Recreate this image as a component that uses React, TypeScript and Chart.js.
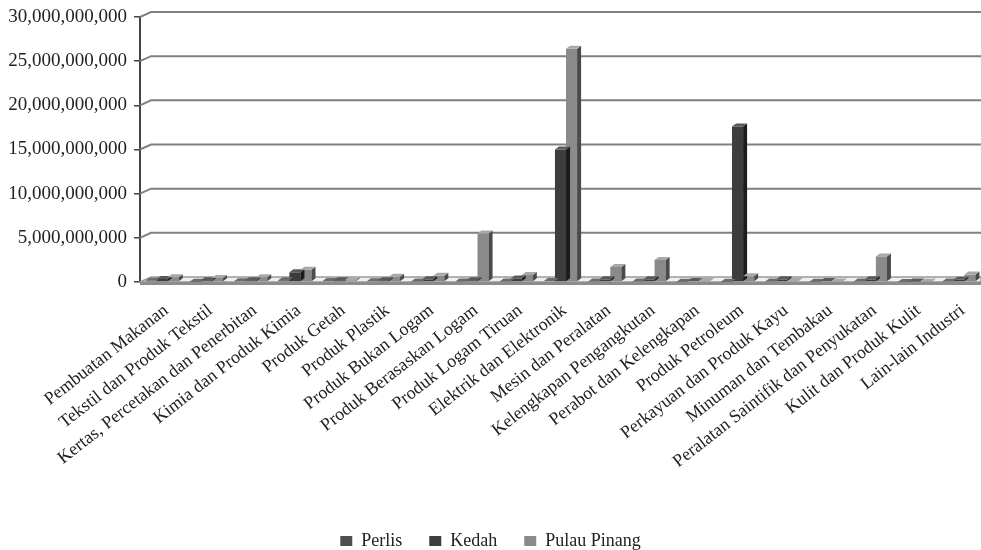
import React, { useEffect, useRef } from 'react';
import { Chart, registerables } from 'chart.js';

Chart.register(...registerables);

const categories = [
  'Pembuatan Makanan',
  'Tekstil dan Produk Tekstil',
  'Kertas, Percetakan dan Penerbitan',
  'Kimia dan Produk Kimia',
  'Produk Getah',
  'Produk Plastik',
  'Produk Bukan Logam',
  'Produk Berasaskan Logam',
  'Produk Logam Tiruan',
  'Elektrik dan Elektronik',
  'Mesin dan Peralatan',
  'Kelengkapan Pengangkutan',
  'Perabot dan Kelengkapan',
  'Produk Petroleum',
  'Perkayuan dan Produk Kayu',
  'Minuman dan Tembakau',
  'Peralatan Saintifik dan Penyukatan',
  'Kulit dan Produk Kulit',
  'Lain-lain Industri',
];

const perlis = [
  150000000, 20000000, 80000000, 200000000, 100000000, 80000000, 60000000, 60000000, 60000000, 100000000,
  60000000, 60000000, 30000000, 20000000, 60000000, 30000000, 60000000, 10000000, 60000000,
];

const kedah = [
  350000000, 200000000, 200000000, 1100000000, 200000000, 200000000, 300000000, 200000000, 400000000, 15000000000,
  300000000, 300000000, 100000000, 17600000000, 300000000, 100000000, 300000000, 50000000, 250000000,
];

const pulauPinang = [
  550000000, 450000000, 550000000, 1400000000, 200000000, 600000000, 700000000, 5500000000, 800000000, 26400000000,
  1700000000, 2500000000, 120000000, 650000000, 120000000, 60000000, 2900000000, 30000000, 850000000,
];

const seriesNames = ['Perlis', 'Kedah', 'Pulau Pinang'];
const yMin = 0;
const yMax = 30000000000;
const yStep = 5000000000;

const frontColors = ['#4f4f4f', '#3d3d3d', '#8a8a8a'];
const sideColors = ['#262626', '#1c1c1c', '#4a4a4a'];
const topColors = ['#6c6c6c', '#5a5a5a', '#a8a8a8'];

const FONT = "'Liberation Serif', 'Times New Roman', serif";

const WALL_DX = 11;
const WALL_DY = -5;
const BAR_DX = 4;
const BAR_DY = -3;

const threeDPlugin = {
  id: 'threeD',
  beforeDatasetsDraw(chart: any) {
    const { ctx, chartArea } = chart;
    const { left, right, bottom } = chartArea;
    const y = chart.scales.y;
    ctx.save();
    // floor
    ctx.fillStyle = '#efefef';
    ctx.beginPath();
    ctx.moveTo(left, bottom);
    ctx.lineTo(left + WALL_DX, bottom + WALL_DY);
    ctx.lineTo(right, bottom + WALL_DY);
    ctx.lineTo(right, bottom);
    ctx.closePath();
    ctx.fill();
    ctx.strokeStyle = '#9a9a9a';
    ctx.lineWidth = 1.5;
    ctx.stroke();
    // back-wall gridlines
    ctx.strokeStyle = '#808080';
    ctx.lineWidth = 2;
    y.ticks.forEach((t: any) => {
      if (t.value === 0) return;
      const py = y.getPixelForValue(t.value);
      ctx.beginPath();
      ctx.moveTo(left, py);
      ctx.lineTo(left + WALL_DX, py + WALL_DY);
      ctx.lineTo(right, py + WALL_DY);
      ctx.stroke();
    });
    ctx.restore();
  },
  afterDatasetsDraw(chart: any) {
    const { ctx, chartArea } = chart;
    const { left, right, bottom } = chartArea;
    ctx.save();
    chart.data.datasets.forEach((_ds: any, i: number) => {
      const meta = chart.getDatasetMeta(i);
      meta.data.forEach((bar: any) => {
        const { x, y, base, width } = bar.getProps(['x', 'y', 'base', 'width'], true);
        const l = x - width / 2;
        const r = x + width / 2;
        ctx.fillStyle = sideColors[i];
        ctx.beginPath();
        ctx.moveTo(r, y);
        ctx.lineTo(r + BAR_DX, y + BAR_DY);
        ctx.lineTo(r + BAR_DX, base + BAR_DY);
        ctx.lineTo(r, base);
        ctx.closePath();
        ctx.fill();
        ctx.fillStyle = topColors[i];
        ctx.beginPath();
        ctx.moveTo(l, y);
        ctx.lineTo(l + BAR_DX, y + BAR_DY);
        ctx.lineTo(r + BAR_DX, y + BAR_DY);
        ctx.lineTo(r, y);
        ctx.closePath();
        ctx.fill();
      });
    });
    // front floor edge
    ctx.strokeStyle = '#8c8c8c';
    ctx.lineWidth = 3;
    ctx.beginPath();
    ctx.moveTo(left, bottom + 1.5);
    ctx.lineTo(right, bottom + 1.5);
    ctx.stroke();
    ctx.restore();
  },
};

export default function App() {
  const canvasRef = useRef<HTMLCanvasElement | null>(null);

  useEffect(() => {
    document.body.style.margin = '0';
    const canvas = canvasRef.current;
    if (!canvas) return;
    const datasets = [perlis, kedah, pulauPinang].map((data, i) => ({
      label: seriesNames[i],
      data,
      backgroundColor: frontColors[i],
      borderWidth: 0,
      categoryPercentage: 0.75,
      barPercentage: 1.0,
    }));
    const chart = new Chart(canvas, {
      type: 'bar',
      data: { labels: categories, datasets },
      plugins: [threeDPlugin],
      options: {
        animation: false,
        responsive: false,
        layout: { padding: { top: 17, bottom: -10, left: 0, right: 0 } },
        plugins: {
          tooltip: { enabled: false },
          legend: {
            position: 'bottom',
            labels: {
              font: { family: FONT, size: 18 },
              color: '#222',
              boxWidth: 12,
              boxHeight: 10,
              padding: 27,
            },
          },
        },
        scales: {
          x: {
            grid: { display: false, drawTicks: false },
            border: { display: false },
            ticks: {
              autoSkip: false,
              minRotation: 38,
              maxRotation: 38,
              padding: 18,
              labelOffset: 4,
              color: '#222',
              font: { family: FONT, size: 18 },
            },
            afterFit: (s: any) => {
              s.height = 223;
              s.paddingLeft = 0;
              s.paddingRight = 0;
            },
          },
          y: {
            min: yMin,
            max: yMax,
            ticks: {
              stepSize: yStep,
              padding: 7,
              color: '#222',
              font: { family: FONT, size: 19 },
              callback: (v: any) => Number(v).toLocaleString('en-US'),
            },
            grid: { drawOnChartArea: false, tickLength: 6, color: '#444', lineWidth: 1.5 },
            border: { display: true, color: '#444', width: 2 },
            afterFit: (s: any) => {
              s.width = 140;
              s.paddingTop = 0;
              s.paddingBottom = 0;
            },
          },
        },
      },
    });
    return () => chart.destroy();
  }, []);

  return (
    <div style={{ width: 981, height: 550 }}>
      <canvas ref={canvasRef} width={981} height={550} style={{ display: 'block' }} />
    </div>
  );
}
